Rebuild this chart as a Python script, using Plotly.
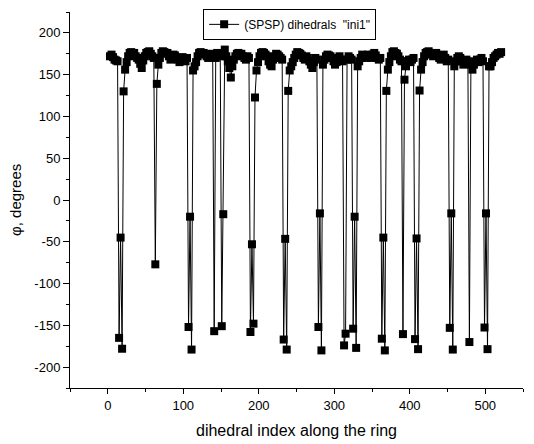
import plotly.graph_objects as go

# dihedral index (every other dihedral along the ring: SPSP type)
index = list(range(3, 522, 2))

# phi values in degrees, 10 per row (rows start at index 3, 23, 43, ...)
phi = [
    172, 174, 171, 168, 167, 166, -165, -45, -178, 130,
    156, 165, 172, 176, 177, 175, 176, 172, 170, 168,
    163, 158, 167, 172, 176, 177, 178, 175, 172, 170,
    -77, 139, 162, 170, 176, 178, 177, 175, 176, 172,
    168, 170, 174, 173, 170, 168, 165, 170, 171, 168,
    166, 170, -152, -20, -179, 155, 160, 165, 172, 176,
    177, 175, 176, 174, 172, 170, 173, 175, 172, -157,
    170, 176, 174, 172, -151, -17, 180, 172, 166, 158,
    146.6, 160, 168, 172, 175, 176, 174, 175, 172, 170,
    168, 172, 170, -158, -53, -148, 122.7, 155, 165, 172,
    176, 177, 176, 174, 172, 166, 162, 160, 168, 172,
    175, 174, 172, 170, 168, -167, -46.5, -179, 130.6, 155,
    160, 165, 170, 174, 177, 176, 175, 173, 170, 168,
    172, 170, 166, 162, 158, 165, 170, 168, -152, -16,
    -180, 162, 168, 172, 174, 173, 172, 170, 166, 162,
    165, 170, 172, 168, 166, -174, -160, 168, 172, 170,
    168, -154, -20, -177, 160, 166, 170, 174, 172, 170,
    172, 174, 172, 170, 174, 176, 173, 170, 168, 170,
    -166, -45, -180, 130.6, 156, 165, 172, 177, 178, 176,
    175, 172, 168, 166, -160.5, 144, 160, 166, 168, 165,
    168, 170, -166.5, -46, -178.5, 131, 156, 165, 172, 176,
    177, 178, 176, 174, 172, 175, 176, 173, 170, 168,
    172, 174, 170, 166, 168, -153, -16, -179, 160, 166,
    170, 172, 170, 166, 162, 165, 168, 166, -170, 162,
    156, 162, 166, 168, 165, 168, 170, 166, -152.6, -16,
    -178.5, 160, 160, 165, 170, 172, 174, 176, 175, 177,
]
assert len(index) == len(phi)

x_tick_values = [0, 100, 200, 300, 400, 500]
x_tick_labels = ["0", "100", "200", "300", "400", "500"]
y_tick_values = [-200, -150, -100, -50, 0, 50, 100, 150, 200]
y_tick_labels = ["-200", "-150", "-100", "-50", "0", "50", "100", "150", "200"]

series_name = '(SPSP) dihedrals \u00a0"ini1"'
x_title = "dihedral index along the ring"
y_title = "\u03c6, degrees"

FONT = "Arial, Liberation Sans, Helvetica, sans-serif"

fig = go.Figure(
    go.Scatter(
        x=index,
        y=phi,
        mode="lines+markers",
        name=series_name,
        line=dict(color="black", width=1),
        marker=dict(symbol="square", size=8, color="black"),
        showlegend=True,
    )
)

axis_common = dict(
    showline=True,
    linecolor="black",
    linewidth=1,
    ticks="outside",
    tickcolor="black",
    tickwidth=1,
    showgrid=False,
    zeroline=False,
    mirror=False,
    tickfont=dict(family=FONT, size=13, color="black"),
)

# the page body has an 8px margin, so the figure is sized to fit the window
fig.update_layout(
    width=526,
    height=436,
    margin=dict(l=62, r=11, t=4, b=56, autoexpand=False),
    paper_bgcolor="white",
    plot_bgcolor="white",
    font=dict(family=FONT, color="black"),
    xaxis=dict(
        range=[-50, 550],
        tickmode="array",
        tickvals=x_tick_values,
        ticktext=x_tick_labels,
        ticklen=5,
        minor=dict(tickmode="linear", tick0=0, dtick=50, ticklen=3,
                   ticks="outside", tickcolor="black"),
        title=dict(text=x_title, font=dict(family=FONT, size=16), standoff=13),
        **axis_common,
    ),
    yaxis=dict(
        range=[-225, 225],
        tickmode="array",
        tickvals=y_tick_values,
        ticktext=y_tick_labels,
        ticklen=6,
        minor=dict(tickmode="linear", tick0=0, dtick=25, ticklen=3,
                   ticks="outside", tickcolor="black"),
        **axis_common,
    ),
    annotations=[
        dict(
            text=y_title,
            xref="paper",
            yref="paper",
            x=0,
            y=0.5,
            xanchor="center",
            yanchor="middle",
            xshift=-55,
            textangle=-90,
            showarrow=False,
            font=dict(family=FONT, size=15, color="black"),
        )
    ],
    legend=dict(
        xref="container",
        yref="container",
        x=0.371,
        y=0.998,
        xanchor="left",
        yanchor="top",
        bordercolor="black",
        borderwidth=1,
        bgcolor="white",
        font=dict(family=FONT, size=12, color="black"),
        tracegroupgap=0,
    ),
)

fig.write_html("out.html")
